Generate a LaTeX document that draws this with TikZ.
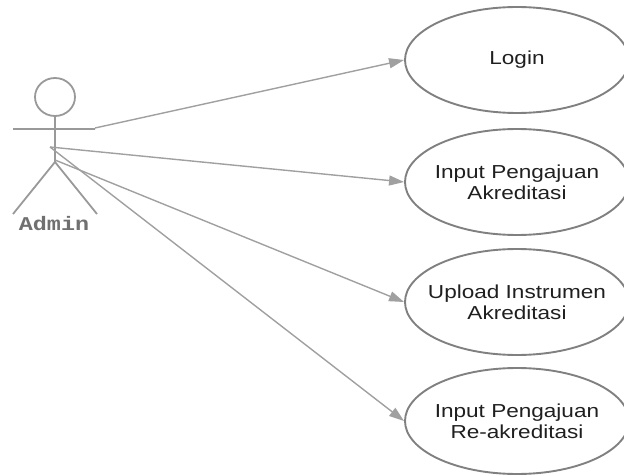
\documentclass[tikz,border=0pt]{standalone}
\usepackage{fontspec}
\usepackage{tikz}
\usetikzlibrary{shapes.geometric}
\usetikzlibrary{arrows.meta}
\newfontfamily\casefont[FakeStretch=1.2]{Liberation Sans}
\newfontfamily\actorfont[FakeStretch=1.2]{Liberation Mono}
\definecolor{linegray}{HTML}{A0A0A0}
\definecolor{rimgray}{HTML}{808080}
\definecolor{actorgray}{HTML}{999999}
\definecolor{namegray}{HTML}{707070}
\tikzset{
  usecase/.style={ellipse,draw=rimgray,line width=1.9pt,minimum width=224pt,minimum height=106pt,
    inner xsep=-10pt,inner ysep=0pt,align=center,text=black!88,font=\casefont\fontsize{18.8}{21}\selectfont},
  assoc/.style={draw=linegray,line width=1.4pt,-{Triangle[length=15pt,width=10pt]}}
}
\begin{document}
\begin{tikzpicture}[x=1pt,y=-1pt]
\useasboundingbox (0,0) rectangle (624,476);
\node (login) [usecase] at (517,60) {Login};
\node (pengajuan) [usecase] at (517,182) {Input Pengajuan\\Akreditasi};
\node (upload) [usecase] at (517,302) {Upload Instrumen\\Akreditasi};
\node (reakreditasi) [usecase] at (517,421) {Input Pengajuan\\Re-akreditasi};
\draw [actorgray,line width=1.8pt] (55,97) ellipse (20 and 19);
\draw [actorgray,line width=1.8pt] (55,116) -- (55,162) (13,129) -- (95,129)
  (13,214) -- (55,162) -- (97,214);
\node (admin) at (54,224) {\actorfont\bfseries\fontsize{19.5}{22}\selectfont\color{namegray}Admin};
\coordinate (hand) at (95,128);
\coordinate (chest) at (50,147);
\coordinate (hip) at (55,160);
\draw [assoc] (hand) -- (login.west);
\draw [assoc] (chest) -- (pengajuan.west);
\draw [assoc] (hip) -- (upload.west);
\draw [assoc] (chest) -- (reakreditasi.west);
\end{tikzpicture}
\end{document}
